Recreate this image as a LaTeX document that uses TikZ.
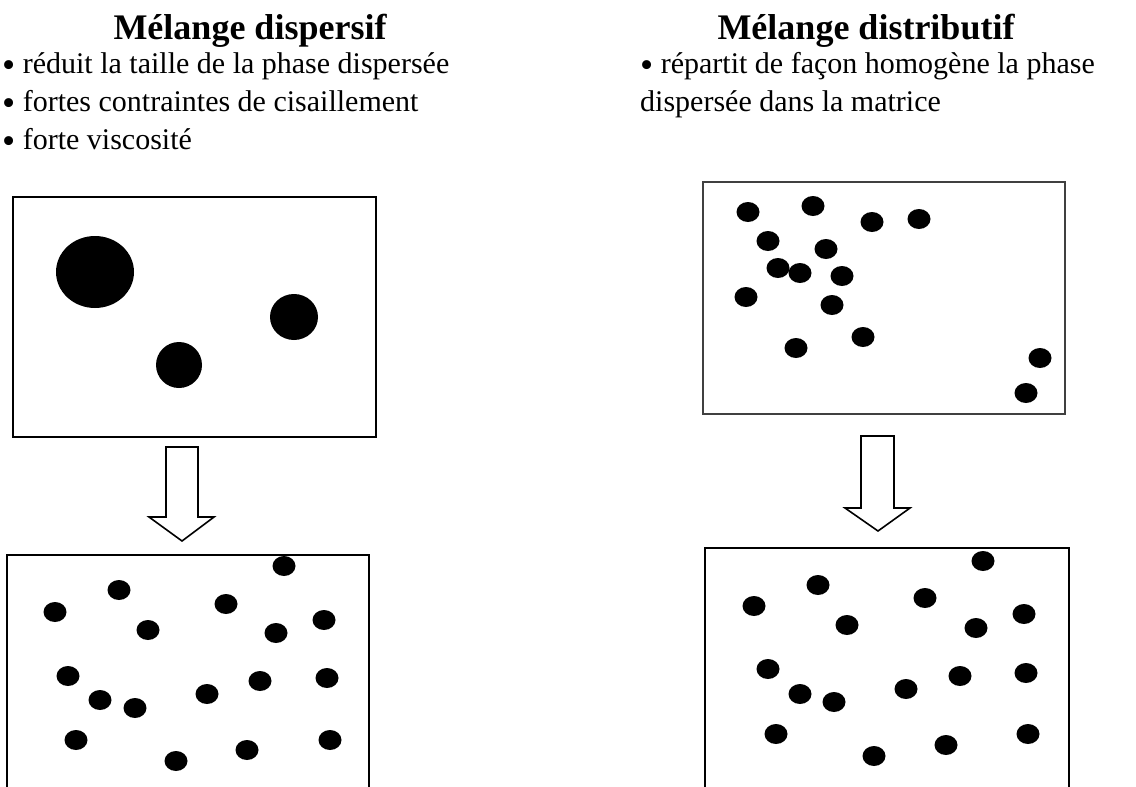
\documentclass[tikz,border=0pt]{standalone}
\usepackage{fontspec}
\setmainfont{Liberation Serif}
\usetikzlibrary{shapes.geometric}
\newcommand{\bigbul}{\raisebox{-4.5pt}{\scalebox{1.25}{\textbullet}}}
\tikzset{
  titletxt/.style={font=\fontsize{36}{40}\selectfont\bfseries, inner sep=0pt, anchor=base},
  bodytxt/.style={font=\fontsize{30}{34}\selectfont, inner sep=0pt, anchor=base west},
  frame/.style={draw=black, line width=1.8pt},
  thinframe/.style={draw=black!75, line width=1.2pt},
  blockarrow/.style={draw=black, line width=1.6pt, fill=white, line join=miter},
  bigblob/.style={ellipse, fill=black, draw=none, inner sep=0pt},
  dot/.style={ellipse, fill=black, draw=none, inner sep=0pt, minimum width=23pt, minimum height=20pt}
}
\begin{document}
\begin{tikzpicture}[x=1pt,y=-1pt]
\useasboundingbox (0,0) rectangle (1136,787);

% texts
\node[titletxt] (t1) at (250,39) {Mélange dispersif};
\node[bodytxt] (b1) at (2,73) {\bigbul{} réduit la taille de la phase dispersée};
\node[bodytxt] (b2) at (2,111) {\bigbul{} fortes contraintes de cisaillement};
\node[bodytxt] (b3) at (2,149) {\bigbul{} forte viscosité};

\node[titletxt] (t2) at (866,39) {Mélange distributif};
\node[bodytxt] (r1) at (640,73) {\bigbul{} répartit de façon homogène la phase};
\node[bodytxt] (r2) at (640,111) {dispersée dans la matrice};

% top-left box
\draw[frame] (13,197) rectangle (376,437);
\node[bigblob, minimum width=78pt, minimum height=72pt] (g1) at (95,272) {};
\node[bigblob, minimum width=48pt, minimum height=46pt] (g2) at (294,317) {};
\node[bigblob, minimum width=46pt, minimum height=46pt] (g3) at (179,365) {};

% left arrow
\draw[blockarrow] (166,447) -- (198,447) -- (198,517) -- (214,517) -- (182,541) -- (149,517) -- (166,517) -- cycle;

% bottom-left box
\draw[frame] (7,800) -- (7,555) -- (369,555) -- (369,800);
\foreach \n/\x/\y in {1/284/566,2/119/590,3/55/612,4/226/604,5/148/630,6/276/633,7/324/620,8/68/676,9/100/700,10/135/708,11/207/694,12/260/681,13/327/678,14/76/740,15/176/761,16/247/750,17/330/740}
  \node[dot] (bl\n) at (\x,\y) {};

% top-right box
\draw[thinframe] (703,182) rectangle (1065,414);
\foreach \n/\x/\y in {1/748/212,2/813/206,3/872/222,4/919/219,5/768/241,6/826/249,7/778/268,8/800/273,9/842/276,10/746/297,11/832/305,12/863/337,13/796/348,14/1040/358,15/1026/393}
  \node[dot] (tr\n) at (\x,\y) {};

% right arrow
\draw[blockarrow] (861,436) -- (894,436) -- (894,508) -- (910,508) -- (878,531) -- (845,508) -- (861,508) -- cycle;

% bottom-right box
\draw[frame] (705,800) -- (705,548) -- (1069,548) -- (1069,800);
\foreach \n/\x/\y in {1/983/561,2/818/585,3/754/606,4/925/598,5/847/625,6/976/628,7/1024/614,8/768/669,9/800/694,10/834/702,11/906/689,12/960/676,13/1026/673,14/776/734,15/874/756,16/946/745,17/1028/734}
  \node[dot] (br\n) at (\x,\y) {};
\end{tikzpicture}
\end{document}
